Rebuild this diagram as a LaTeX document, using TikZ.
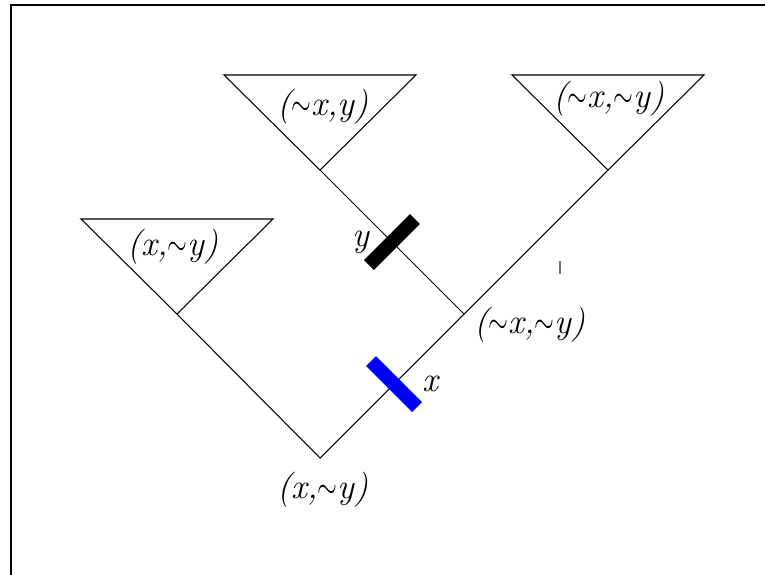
\documentclass[tikz,border=0pt]{standalone}
\usepackage{graphicx}
\usetikzlibrary{calc}

\newcommand{\tld}{\scalebox{0.7}[1]{$\sim$}}

\begin{document}
\begin{tikzpicture}[x=0.02cm, y=-0.02cm]

        % Colours of the two mutation marks
        \definecolor{mutblue}{RGB}{0, 0, 255}
        \definecolor{ticgray}{RGB}{110, 110, 110}

        \tikzset{
          branch/.style={line width=0.6pt},
          clade/.style={line width=0.6pt, line join=miter},
          mutbar/.style={line width=8pt, line cap=butt},
          lab/.style={inner sep=0pt, font=\rmfamily\itshape\fontsize{20}{24}\selectfont}
        }

        \useasboundingbox (0,0) rectangle (765,575);

        % Frame (only left and top edges show)
        \draw[line width=1.2pt] (11,575) -- (11,5) -- (765,5);

        % Points of the tree
        \coordinate (root) at (320,458);
        \coordinate (inner) at (464,314);
        \coordinate (leafA) at (177,314);
        \coordinate (leafB) at (320,170);
        \coordinate (leafC) at (608,170);

        % Branches
        \draw[branch] (leafA) -- (root) -- (inner) -- (leafC);
        \draw[branch] (inner) -- (leafB);

        % Clade triangles on the leaves
        \foreach \leaf in {leafA, leafB, leafC} {
            \draw[clade] (\leaf) -- ++(-96,-95) -- ++(192,0) -- cycle;
        }

        % Clade labels
        \node[lab] (labA) at (173,247) {(x,\tld y)};
        \node[lab] (labB) at (323,107) {(\tld x,y)};
        \node[lab] (labC) at (609,99) {(\tld x,\tld y)};

        % Labels of the inner states
        \node[lab] (labInner) at (530,325) {(\tld x,\tld y)};
        \node[lab] (labRoot) at (323,490) {(x,\tld y)};

        % Mutation on x (blue)
        \path (root) -- (inner) coordinate[pos=0.514] (xcut);
        \draw[mutbar, mutblue] ($(xcut)+(-23,-23)$) -- ($(xcut)+(23,23)$);
        \node[lab] (labX) at (430,384) {x};

        % Mutation on y (black)
        \path (inner) -- (leafB) coordinate[pos=0.5] (ycut);
        \draw[mutbar] ($(ycut)+(-23,23)$) -- ($(ycut)+(23,-23)$);
        \node[lab] (labY) at (361,242) {y};

        % stray tick
        \draw[ticgray, line width=0.8pt] (560,261) -- (560,274);

\end{tikzpicture}
\end{document}
